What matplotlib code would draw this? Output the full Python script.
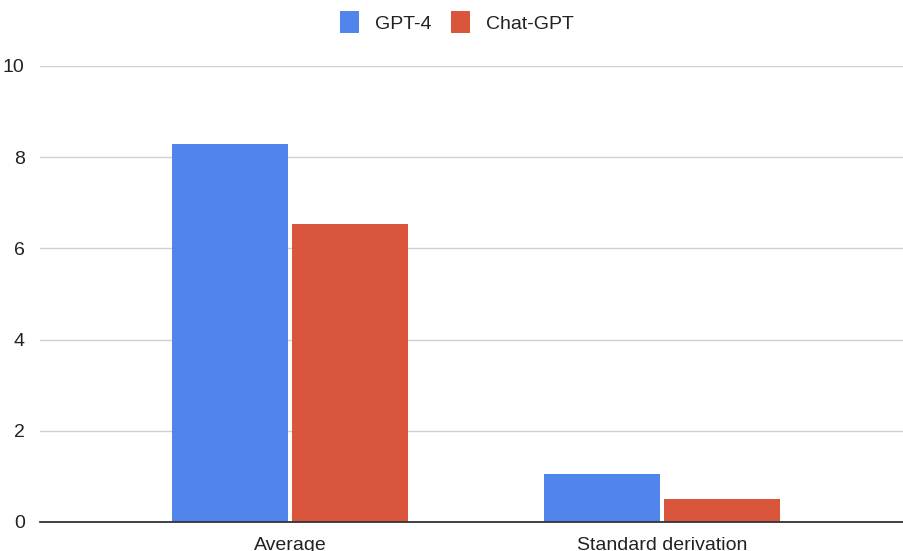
import numpy as np
import matplotlib.pyplot as plt

plt.rcParams['font.family'] = ['Liberation Sans', 'DejaVu Sans']

categories = ['Average', 'Standard derivation']
gpt4 = [8.3, 1.05]
chatgpt = [6.54, 0.51]
series_names = ['GPT-4', 'Chat-GPT']
colors = ['#5086EC', '#D9553B']

fig = plt.figure(figsize=(9.04, 5.51), dpi=100)
ax = fig.add_axes([40 / 904, 1 - 522 / 551, 1 - 40 / 904, (522 - 66) / 551])

x = np.arange(len(categories))
w = 0.312
gap = 0.005
ax.bar(x - w / 2 - gap, gpt4, width=w, color=colors[0], label=series_names[0], zorder=3)
ax.bar(x + w / 2 + gap, chatgpt, width=w, color=colors[1], label=series_names[1], zorder=3)

ax.set_ylim(0, 10)
ax.set_xlim(-0.672, 1.65)
ax.set_yticks([0, 2, 4, 6, 8, 10])
ax.set_xticks(x)
ax.set_xticklabels(categories)
ax.tick_params(axis='both', length=0, labelsize=14, colors='#222222')
ax.tick_params(axis='y', pad=11)
ax.tick_params(axis='x', pad=11)
ax.grid(axis='y', color='#d0d0d0', linewidth=1, zorder=0)
for s in ['top', 'right', 'left']:
    ax.spines[s].set_visible(False)
ax.spines['bottom'].set_color('#333333')
ax.spines['bottom'].set_linewidth(1.3)
ax.spines['bottom'].set_zorder(4)

fig.legend(loc='upper center', bbox_to_anchor=(0.505, 1.012), ncol=2, frameon=False,
           fontsize=14, handlelength=1.0, handleheight=1.4, handletextpad=0.8,
           columnspacing=1.0, labelcolor='#222222')

plt.savefig('out.png', dpi=100)
